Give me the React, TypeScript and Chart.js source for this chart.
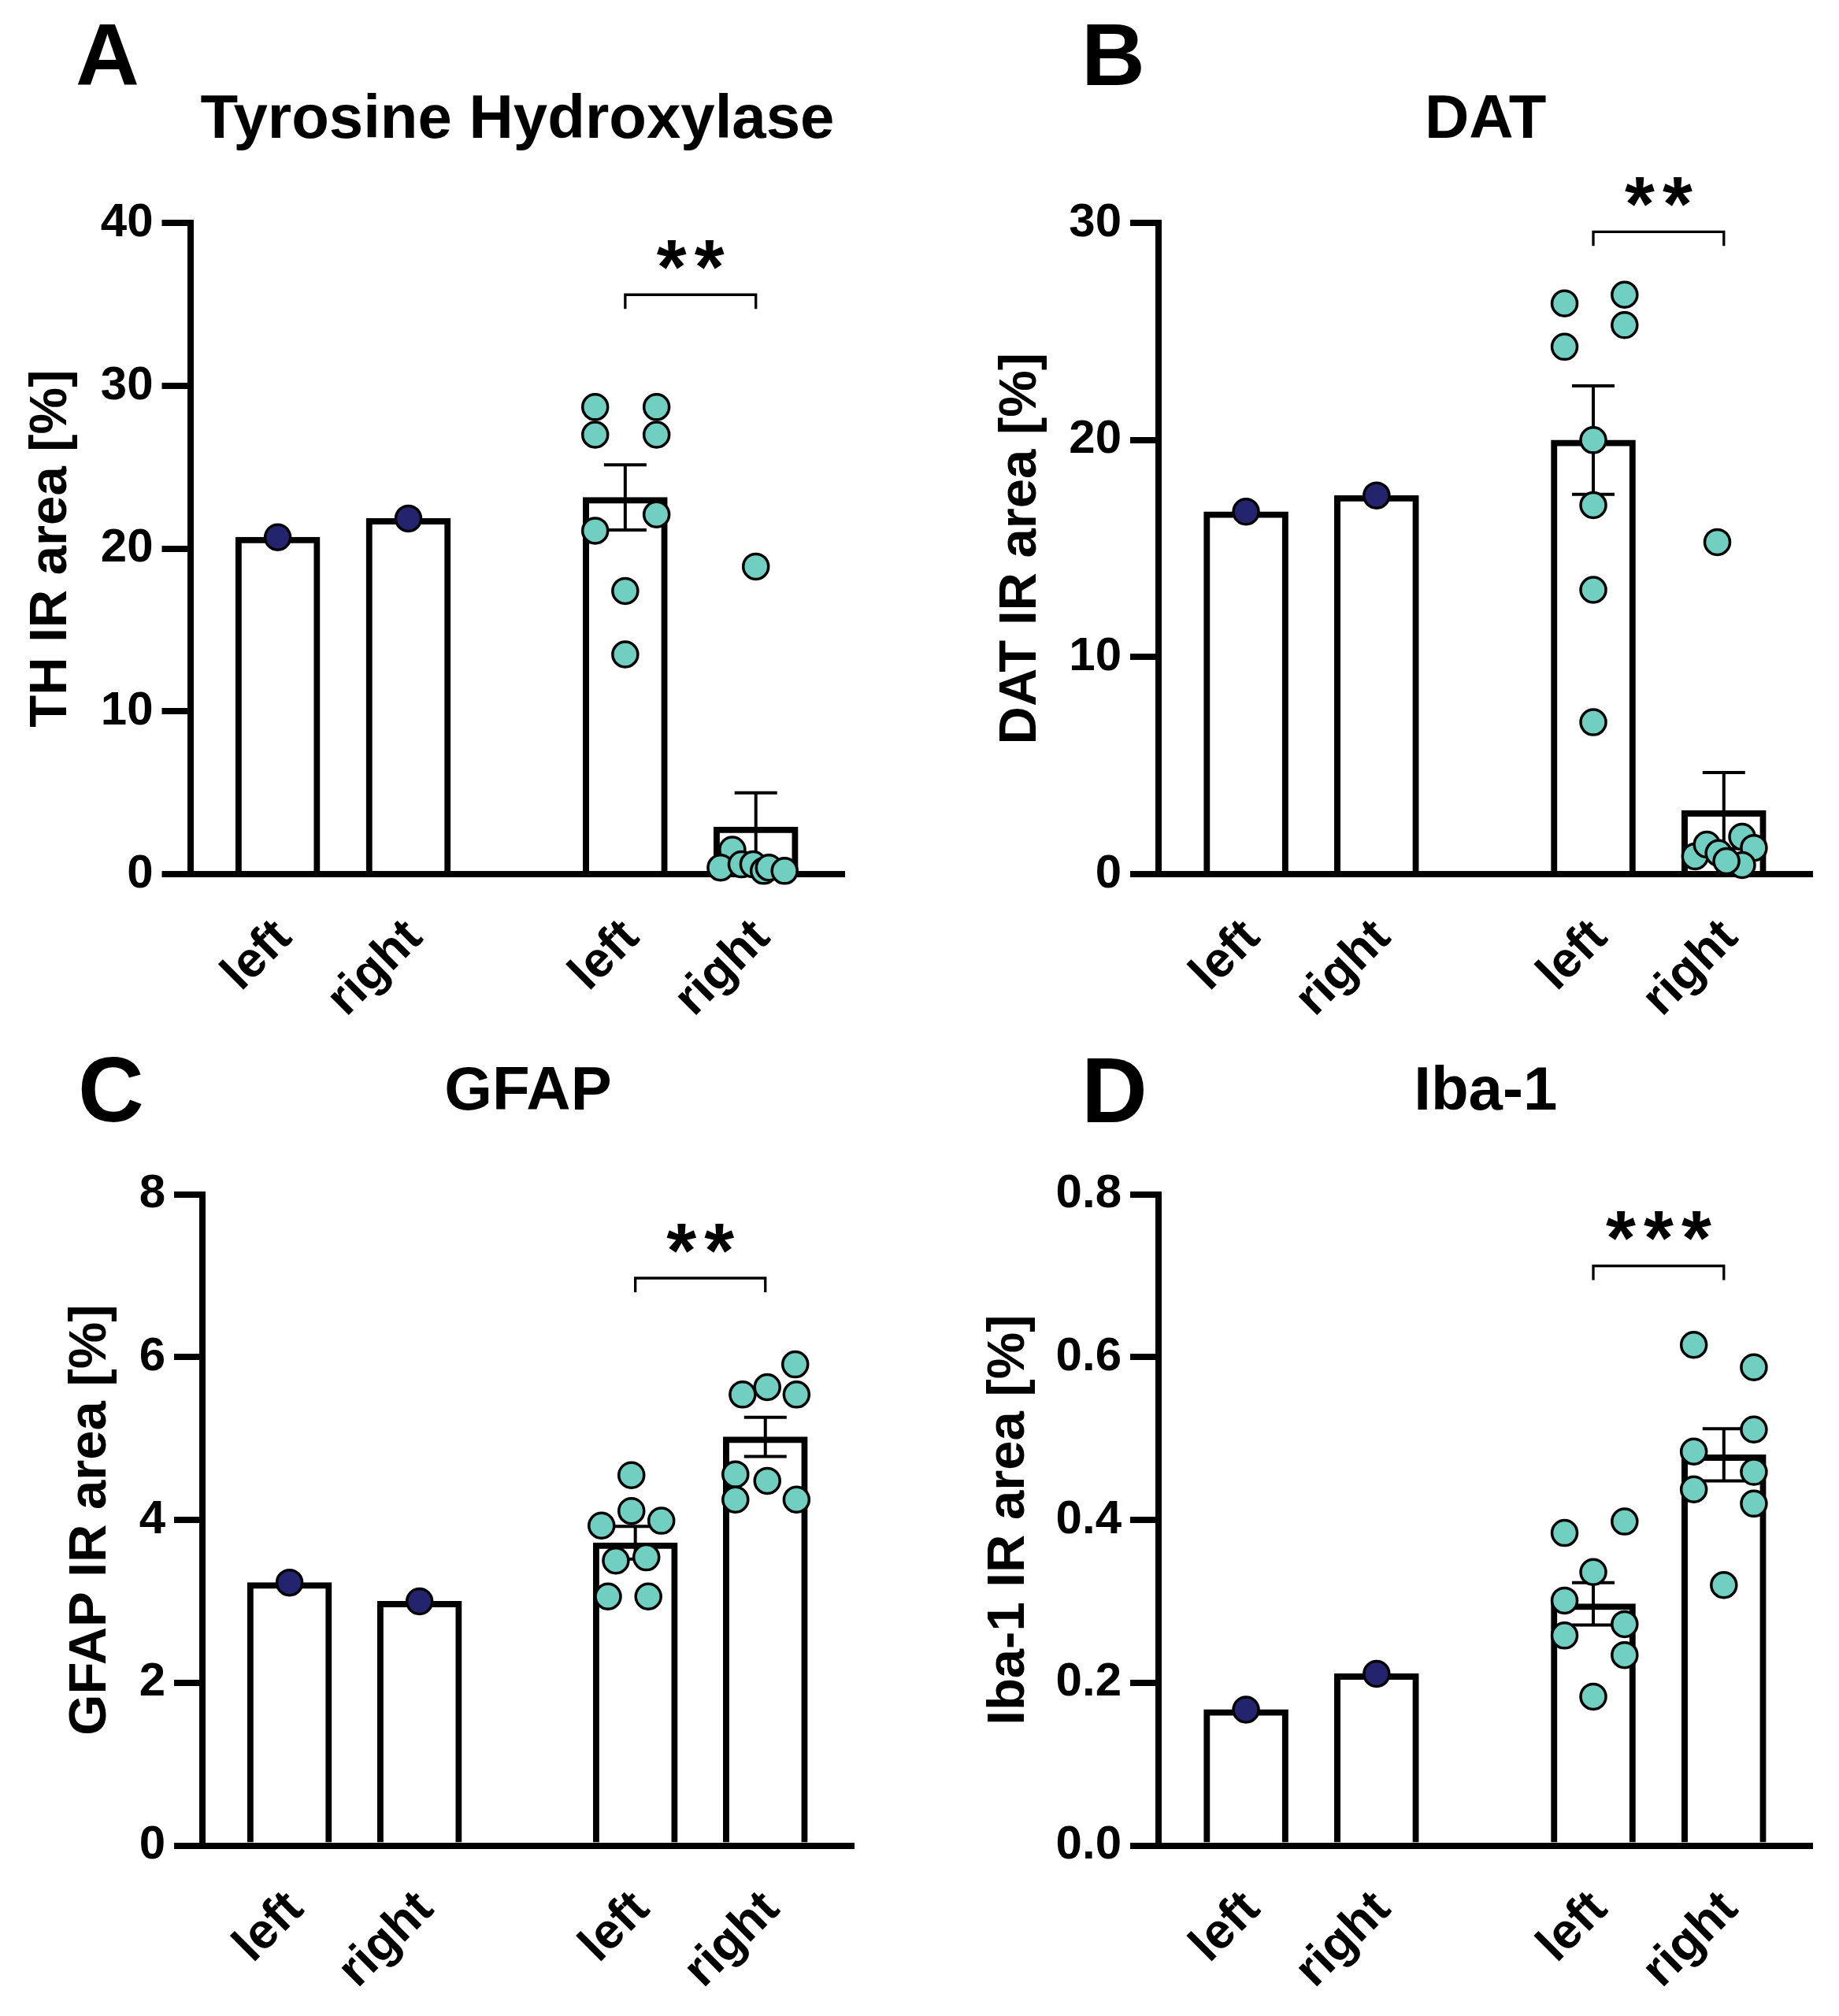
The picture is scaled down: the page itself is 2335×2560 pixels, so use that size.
import React, { useEffect, useRef } from 'react';
import { Chart, registerables } from 'chart.js';

Chart.register(...registerables);

// ---------------- data ----------------
const xTickLabels = ['left', 'right', 'left', 'right'];

// A: Tyrosine Hydroxylase
const thYTicks = [0, 10, 20, 30, 40];
const thBarMeans = [20.7, 21.85, 23.15, 2.9];
const thBarSem = [null, null, 2.0, 2.1];
const thLeftPoints = [28.7, 28.7, 27.0, 27.0, 21.1, 22.1, 17.4, 13.5];
const thRightPoints = [18.9, 1.5, 0.4, 0.6, 0.6, 0.2, 0.4, 0.2];
const thSigLevel = 35.6;
const thSigText = '**';

// B: DAT
const datYTicks = [0, 10, 20, 30];
const datBarMeans = [16.7, 17.45, 20.0, 2.93];
const datBarSem = [null, null, 2.5, 1.75];
const datLeftPoints = [26.3, 24.3, 26.7, 25.3, 20.0, 17.0, 13.1, 7.0];
const datRightPoints = [15.3, 0.82, 1.36, 0.97, 1.72, 1.21, 0.42, 0.6];
const datSigLevel = 29.6;
const datSigText = '**';

// C: GFAP
const gfapYTicks = [0, 2, 4, 6, 8];
const gfapBarMeans = [3.23, 3.0, 3.72, 5.02];
const gfapBarSem = [null, null, 0.2, 0.24];
const gfapLeftPoints = [4.55, 4.11, 3.93, 3.99, 3.5, 3.54, 3.06, 3.06];
const gfapRightPoints = [5.54, 5.63, 5.91, 5.54, 4.56, 4.48, 4.25, 4.25];
const gfapSigLevel = 6.97;
const gfapSigText = '**';

// D: Iba-1
const ibaYTicks = [0, 0.2, 0.4, 0.6, 0.8];
const ibaBarMeans = [0.167, 0.211, 0.297, 0.48];
const ibaBarSem = [null, null, 0.026, 0.032];
const ibaLeftPoints = [0.384, 0.398, 0.336, 0.301, 0.272, 0.258, 0.234, 0.183];
const ibaRightPoints = [0.615, 0.5875, 0.511, 0.484, 0.459, 0.4375, 0.42, 0.32];
const ibaSigLevel = 0.712;
const ibaSigText = '***';

// ---------------- layout / style ----------------
const FONT = '"Liberation Sans", Arial, Helvetica, sans-serif';
const TEAL = '#70CFC0';
const NAVY = '#24246E';
const INK = '#000000';

const SLOT_X = [0, 1, 2.66, 3.66];
const X_MIN = -0.67;
const X_MAX = 4.34;

const thLeftJitter = [-0.23, 0.24, -0.23, 0.24, -0.23, 0.24, 0, 0];
const thRightJitter = [0, -0.18, -0.27, -0.11, -0.02, 0.06, 0.1, 0.22];
const datLeftJitter = [-0.22, -0.22, 0.24, 0.24, 0, 0, 0, 0];
const datRightJitter = [-0.05, -0.22, -0.13, -0.04, 0.14, 0.23, 0.14, 0.02];
const gfapLeftJitter = [-0.03, -0.03, -0.26, 0.2, -0.15, 0.085, -0.21, 0.1];
const gfapRightJitter = [-0.175, 0.015, 0.23, 0.24, -0.23, 0.015, -0.23, 0.24];
const ibaLeftJitter = [-0.22, 0.24, 0, -0.22, 0.24, -0.22, 0.24, 0];
const ibaRightJitter = [-0.23, 0.23, 0.23, -0.23, 0.23, -0.23, 0.23, 0];

const Y_TICK_FONT = 60;
const X_TICK_FONT = 63;
const Y_TITLE_FONT = 67;
const TITLE_FONT = 78;
const STAR_INK_H = 37;
const STAR_PITCH = 48;
const STAR_GAP = 32;

type Panel = {
  letter: string;
  title: string;
  yTitle: string;
  yTicks: number[];
  decimals: number;
  means: number[];
  sems: (number | null)[];
  leftPts: number[];
  rightPts: number[];
  leftJitter: number[];
  rightJitter: number[];
  sig: { from: number; to: number; y: number; text: string };
  box: { left: number; top: number; width: number; height: number };
  area: { left: number; right: number; top: number; bottom: number };
  yTitleX: number;
  letterPos: { x: number; y: number; size: number };
  titleY: number;
};

const panels: Panel[] = [
  {
    letter: 'A', title: 'Tyrosine Hydroxylase', yTitle: 'TH IR area [%]',
    yTicks: thYTicks, decimals: 0, means: thBarMeans, sems: thBarSem,
    leftPts: thLeftPoints, rightPts: thRightPoints,
    leftJitter: thLeftJitter, rightJitter: thRightJitter,
    sig: { from: 2, to: 3, y: thSigLevel, text: thSigText },
    box: { left: 0, top: 0, width: 1167, height: 1320 },
    area: { left: 241.5, right: 1072.5, top: 283.3, bottom: 1110 },
    yTitleX: 66, letterPos: { x: 96, y: 108, size: 112 }, titleY: 175,
  },
  {
    letter: 'B', title: 'DAT', yTitle: 'DAT IR area [%]',
    yTicks: datYTicks, decimals: 0, means: datBarMeans, sems: datBarSem,
    leftPts: datLeftPoints, rightPts: datRightPoints,
    leftJitter: datLeftJitter, rightJitter: datRightJitter,
    sig: { from: 2, to: 3, y: datSigLevel, text: datSigText },
    box: { left: 1167, top: 0, width: 1168, height: 1320 },
    area: { left: 1471, right: 2301.5, top: 283.3, bottom: 1110 },
    yTitleX: 1297, letterPos: { x: 1373, y: 108, size: 112 }, titleY: 175,
  },
  {
    letter: 'C', title: 'GFAP', yTitle: 'GFAP IR area [%]',
    yTicks: gfapYTicks, decimals: 0, means: gfapBarMeans, sems: gfapBarSem,
    leftPts: gfapLeftPoints, rightPts: gfapRightPoints,
    leftJitter: gfapLeftJitter, rightJitter: gfapRightJitter,
    sig: { from: 2, to: 3, y: gfapSigLevel, text: gfapSigText },
    box: { left: 0, top: 1233, width: 1167, height: 1327 },
    area: { left: 257, right: 1084, top: 1516.5, bottom: 2343.6 },
    yTitleX: 116, letterPos: { x: 99, y: 1424, size: 116 }, titleY: 1409,
  },
  {
    letter: 'D', title: 'Iba-1', yTitle: 'Iba-1 IR area [%]',
    yTicks: ibaYTicks, decimals: 1, means: ibaBarMeans, sems: ibaBarSem,
    leftPts: ibaLeftPoints, rightPts: ibaRightPoints,
    leftJitter: ibaLeftJitter, rightJitter: ibaRightJitter,
    sig: { from: 2, to: 3, y: ibaSigLevel, text: ibaSigText },
    box: { left: 1167, top: 1233, width: 1168, height: 1327 },
    area: { left: 1471, right: 2301.5, top: 1516.5, bottom: 2343.6 },
    yTitleX: 1282, letterPos: { x: 1373, y: 1425, size: 116 }, titleY: 1409,
  },
];

function makeDecoPlugin(p: Panel) {
  return {
    id: 'deco' + p.letter,
    afterDatasetDraw(chart: any, args: any) {
      if (args.index !== 2) return;
      const ctx = chart.ctx;
      const xs = chart.scales.x;
      const ys = chart.scales.y;
      ctx.save();
      ctx.strokeStyle = INK;
      ctx.lineWidth = 4;
      ctx.lineCap = 'butt';
      p.means.forEach((m, i) => {
        const s = p.sems[i];
        if (s == null) return;
        const x = xs.getPixelForValue(SLOT_X[i]);
        const yt = ys.getPixelForValue(m + s);
        const yb = ys.getPixelForValue(Math.max(m - s, 0));
        ctx.beginPath();
        ctx.moveTo(x, yt);
        ctx.lineTo(x, yb);
        ctx.moveTo(x - 27, yt);
        ctx.lineTo(x + 27, yt);
        ctx.moveTo(x - 27, yb);
        ctx.lineTo(x + 27, yb);
        ctx.stroke();
      });
      ctx.restore();
    },
    afterDraw(chart: any) {
      const ctx = chart.ctx;
      const xs = chart.scales.x;
      const ys = chart.scales.y;
      const ox = p.box.left;
      const oy = p.box.top;
      ctx.save();
      // significance bracket
      const x1 = xs.getPixelForValue(SLOT_X[p.sig.from]);
      const x2 = xs.getPixelForValue(SLOT_X[p.sig.to]);
      const yb = ys.getPixelForValue(p.sig.y);
      ctx.strokeStyle = INK;
      ctx.lineWidth = 3.3;
      ctx.lineJoin = 'miter';
      ctx.beginPath();
      ctx.moveTo(x1, yb + 18);
      ctx.lineTo(x1, yb);
      ctx.lineTo(x2, yb);
      ctx.lineTo(x2, yb + 18);
      ctx.stroke();
      // stars
      ctx.fillStyle = INK;
      ctx.font = `bold 100px ${FONT}`;
      const m0 = ctx.measureText('*');
      const h0 = m0.actualBoundingBoxAscent + m0.actualBoundingBoxDescent;
      const size = h0 > 0 ? (100 * STAR_INK_H) / h0 : 100;
      ctx.font = `bold ${size}px ${FONT}`;
      const m1 = ctx.measureText('*');
      const extra = STAR_PITCH - m1.width;
      (ctx as any).letterSpacing = `${extra}px`;
      const total = ctx.measureText(p.sig.text).width - extra;
      const inkBottom = yb - STAR_GAP;
      const baseline = inkBottom - m1.actualBoundingBoxDescent;
      ctx.textAlign = 'left';
      ctx.textBaseline = 'alphabetic';
      ctx.fillText(p.sig.text, (x1 + x2) / 2 - total / 2, baseline);
      (ctx as any).letterSpacing = '0px';
      // panel title
      ctx.font = `bold ${TITLE_FONT}px ${FONT}`;
      ctx.textAlign = 'center';
      const area = chart.chartArea;
      ctx.fillText(p.title, (area.left + area.right) / 2, p.titleY - oy);
      // panel letter
      ctx.font = `bold ${p.letterPos.size}px ${FONT}`;
      ctx.textAlign = 'left';
      ctx.fillText(p.letter, p.letterPos.x - ox, p.letterPos.y - oy);
      ctx.restore();
    },
  };
}

function PanelChart({ p }: { p: Panel }) {
  const ref = useRef<HTMLCanvasElement | null>(null);
  useEffect(() => {
    const canvas = ref.current;
    if (!canvas) return;
    const b = p.box;
    const lineH = Y_TITLE_FONT * 1.2;
    const scaleLeft = p.yTitleX - lineH / 2;
    const padLeft = scaleLeft - b.left;
    const yWidth = p.area.left - scaleLeft;
    const padRight = b.left + b.width - p.area.right;
    const padTop = p.area.top - b.top;
    const xHeight = b.top + b.height - p.area.bottom;

    const barData = p.means.map((m, i) => ({ x: SLOT_X[i], y: m }));
    const singleData = p.means.slice(0, 2).map((m, i) => ({ x: SLOT_X[i], y: m }));
    const groupData = [
      ...p.leftPts.map((v, i) => ({ x: SLOT_X[2] + p.leftJitter[i], y: v })),
      ...p.rightPts.map((v, i) => ({ x: SLOT_X[3] + p.rightJitter[i], y: v })),
    ];

    const chart = new Chart(canvas, {
      type: 'bar',
      data: {
        datasets: [
          {
            type: 'scatter',
            data: groupData,
            order: 1,
            pointRadius: 16,
            pointHoverRadius: 16,
            pointBorderWidth: 3.5,
            pointBackgroundColor: TEAL,
            pointBorderColor: INK,
            showLine: false,
            clip: false,
          } as any,
          {
            type: 'scatter',
            data: singleData,
            order: 1,
            pointRadius: 16,
            pointHoverRadius: 16,
            pointBorderWidth: 3.5,
            pointBackgroundColor: NAVY,
            pointBorderColor: INK,
            showLine: false,
            clip: false,
          } as any,
          {
            type: 'bar',
            data: barData,
            order: 2,
            backgroundColor: '#ffffff',
            borderColor: INK,
            borderWidth: 8,
            barThickness: 107,
          } as any,
        ],
      },
      options: {
        responsive: false,
        animation: false,
        devicePixelRatio: 1,
        events: [],
        layout: { padding: { left: padLeft, right: padRight, top: padTop, bottom: 0 } },
        plugins: {
          legend: { display: false },
          tooltip: { enabled: false },
          title: { display: false },
        },
        scales: {
          x: {
            type: 'linear',
            min: X_MIN,
            max: X_MAX,
            offset: false,
            grid: { display: false, drawTicks: false, tickLength: 0 },
            border: { display: true, width: 8, color: INK },
            ticks: {
              autoSkip: false,
              minRotation: 45,
              maxRotation: 45,
              padding: 44,
              labelOffset: 8,
              color: INK,
              font: { family: FONT, size: X_TICK_FONT, weight: 'bold' },
              callback: (_v: any, i: number) => xTickLabels[i] ?? '',
            },
            afterBuildTicks: (s: any) => {
              s.ticks = SLOT_X.map((v) => ({ value: v }));
            },
            afterFit: (s: any) => {
              s.height = xHeight;
            },
          } as any,
          y: {
            type: 'linear',
            min: p.yTicks[0],
            max: p.yTicks[p.yTicks.length - 1],
            grid: {
              display: true,
              drawOnChartArea: false,
              drawTicks: true,
              tickLength: 36,
              lineWidth: 8,
              color: INK,
            },
            border: { display: true, width: 8, color: INK },
            ticks: {
              padding: 11,
              color: INK,
              font: { family: FONT, size: Y_TICK_FONT, weight: 'bold' },
              callback: (v: any) => Number(v).toFixed(p.decimals),
            },
            afterBuildTicks: (s: any) => {
              s.ticks = p.yTicks.map((v) => ({ value: v }));
            },
            title: {
              display: true,
              text: p.yTitle,
              color: INK,
              padding: 0,
              font: { family: FONT, size: Y_TITLE_FONT, weight: 'bold' },
            },
            afterFit: (s: any) => {
              s.width = yWidth;
            },
          } as any,
        },
      },
      plugins: [makeDecoPlugin(p)],
    });
    return () => chart.destroy();
  }, [p]);

  return (
    <canvas
      ref={ref}
      width={p.box.width}
      height={p.box.height}
      style={{
        position: 'absolute',
        left: p.box.left,
        top: p.box.top,
        width: p.box.width,
        height: p.box.height,
      }}
    />
  );
}

export default function App() {
  return (
    <div
      style={{
        position: 'absolute',
        left: 0,
        top: 0,
        width: 2335,
        height: 2560,
        background: '#ffffff',
        overflow: 'hidden',
      }}
    >
      {panels.map((p) => (
        <PanelChart key={p.letter} p={p} />
      ))}
    </div>
  );
}
